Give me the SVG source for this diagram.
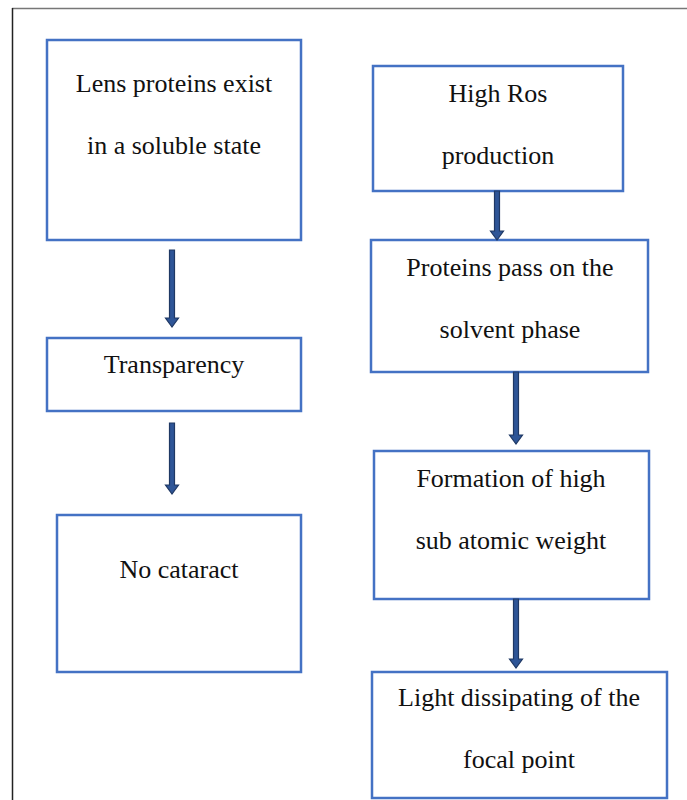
<svg xmlns="http://www.w3.org/2000/svg" width="687" height="800" viewBox="0 0 687 800">
<defs>
<style>
.box{fill:#fff;stroke:#4472C4;stroke-width:2.5}
.t{font-family:"Liberation Serif","Times New Roman",serif;font-size:26px;fill:#111;text-anchor:middle}
.arr{fill:#2E5597;stroke:#1F3864;stroke-width:1.2}
</style>
</defs>
<rect width="687" height="800" fill="#fff"/>
<line x1="12" y1="8.5" x2="687" y2="8.5" stroke="#777" stroke-width="1.5"/>
<line x1="12.5" y1="8" x2="12.5" y2="800" stroke="#222" stroke-width="1.5"/>
<g id="n1"><rect class="box" x="47" y="40" width="254" height="200"/><text class="t" x="174" y="92">Lens proteins exist</text><text class="t" x="174" y="154">in a soluble state</text></g>
<g id="n2"><rect class="box" x="47" y="338" width="254" height="73"/><text class="t" x="174" y="373">Transparency</text></g>
<g id="n3"><rect class="box" x="57" y="515" width="244" height="157"/><text class="t" x="179" y="578">No cataract</text></g>
<g id="n4"><rect class="box" x="373" y="66" width="250" height="125"/><text class="t" x="498" y="102">High Ros</text><text class="t" x="498" y="164">production</text></g>
<g id="n5"><rect class="box" x="371" y="240" width="277" height="132"/><text class="t" x="510" y="276">Proteins pass on the</text><text class="t" x="510" y="338">solvent phase</text></g>
<g id="n6"><rect class="box" x="374" y="451" width="275" height="148"/><text class="t" x="511" y="487">Formation of high</text><text class="t" x="511" y="549">sub atomic weight</text></g>
<g id="n7"><rect class="box" x="372" y="672" width="295" height="126"/><text class="t" x="519" y="706">Light dissipating of the</text><text class="t" x="519" y="768">focal point</text></g>
<g id="connectors">
<path class="arr" d="M169.5,250 h5 v68 h4 l-6.5,9 l-6.5,-9 h4 z"/>
<path class="arr" d="M169.5,423 h5 v62 h4 l-6.5,9 l-6.5,-9 h4 z"/>
<path class="arr" d="M494.5,191 h5 v40 h4 l-6.5,9 l-6.5,-9 h4 z"/>
<path class="arr" d="M513.5,372 h5 v63 h4 l-6.5,9 l-6.5,-9 h4 z"/>
<path class="arr" d="M513.5,599 h5 v60 h4 l-6.5,9 l-6.5,-9 h4 z"/>
</g>
</svg>
